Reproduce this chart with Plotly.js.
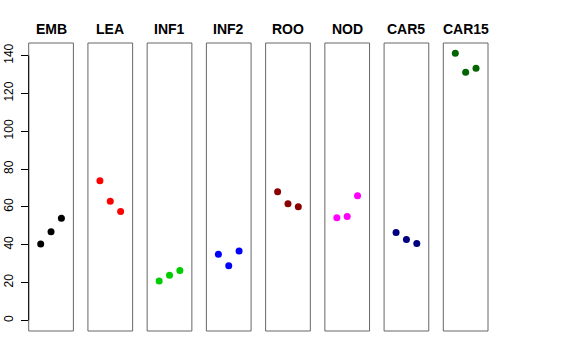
<!DOCTYPE html>
<html>
<head>
<meta charset="utf-8">
<script src="https://cdn.plot.ly/plotly-3.0.1.min.js"></script>
<style>html,body{margin:0;padding:0;background:#fff;}#chart{width:576px;height:360px;}</style>
</head>
<body>
<div id="chart"></div>
<script>
// Data
var categories = ["EMB", "LEA", "INF1", "INF2", "ROO", "NOD", "CAR5", "CAR15"];
var xPositions = [1, 2, 3];
var EMB = [40.4, 46.9, 54.0];
var LEA = [73.8, 63.0, 57.5];
var INF1 = [20.8, 23.8, 26.3];
var INF2 = [35.0, 28.8, 36.6];
var ROO = [68.0, 61.6, 60.0];
var NOD = [54.2, 54.9, 65.9];
var CAR5 = [46.4, 42.7, 40.6];
var CAR15 = [141.2, 131.2, 133.3];
var seriesValues = [EMB, LEA, INF1, INF2, ROO, NOD, CAR5, CAR15];
var colors = ["#000000", "#FF0000", "#00CD00", "#0000FF", "#8B0000", "#FF00FF", "#000080", "#006400"];
var yTicks = [0, 20, 40, 60, 80, 100, 120, 140];

var W = 576, H = 360;
var panelLeft0 = 28.7, panelStep = 59.23, panelW = 44.7;
var panelTop = 43, panelBottom = 331;
var yDomain = [(H - panelBottom) / H, (H - panelTop) / H];

var traces = [];
var layout = {
  width: W, height: H,
  margin: {l: 0, r: 0, t: 0, b: 0},
  paper_bgcolor: "#fff", plot_bgcolor: "rgba(0,0,0,0)",
  showlegend: false,
  font: {family: "Liberation Sans, Arial, sans-serif", color: "#000"},
  yaxis: {
    domain: yDomain,
    range: [-5.64, 146.64],
    anchor: "x",
    tickvals: yTicks,
    ticktext: yTicks.map(String),
    ticks: "outside", ticklen: 7, tickcolor: "#000", tickwidth: 1,
    tickangle: -90,
    tickfont: {size: 12, color: "#000"},
    showgrid: false, zeroline: false, showline: false,
    ticklabelstandoff: 3
  },
  shapes: [],
  annotations: []
};

for (var i = 0; i < categories.length; i++) {
  var axName = i === 0 ? "x" : "x" + (i + 1);
  var axKey = i === 0 ? "xaxis" : "xaxis" + (i + 1);
  var l = panelLeft0 + panelStep * i;
  layout[axKey] = {
    domain: [l / W, (l + panelW) / W],
    range: [-0.16, 4.16],
    visible: false,
    anchor: "y"
  };
  traces.push({
    type: "scatter", mode: "markers",
    x: xPositions, y: seriesValues[i],
    xaxis: axName, yaxis: "y",
    marker: {size: 7, color: colors[i]},
    name: categories[i],
    cliponaxis: false
  });
  layout.shapes.push({
    type: "rect", xref: axName + " domain", yref: "y domain",
    x0: 0, x1: 1, y0: 0, y1: 1,
    line: {color: "#666666", width: 1}, fillcolor: "rgba(0,0,0,0)"
  });
  layout.annotations.push({
    text: "<b>" + categories[i] + "</b>",
    xref: axName + " domain", yref: "paper",
    x: 0.5, y: (H - 29) / H, xanchor: "center", yanchor: "middle",
    showarrow: false,
    font: {size: 14, color: "#000", family: "Liberation Sans, Arial, sans-serif"}
  });
}
// y axis line spanning the tick range
layout.shapes.push({
  type: "line", xref: "x domain", yref: "y",
  x0: 0, x1: 0, y0: yTicks[0], y1: yTicks[yTicks.length - 1],
  line: {color: "#000", width: 1}
});

Plotly.newPlot("chart", traces, layout, {displayModeBar: false, staticPlot: true});
</script>
</body>
</html>
